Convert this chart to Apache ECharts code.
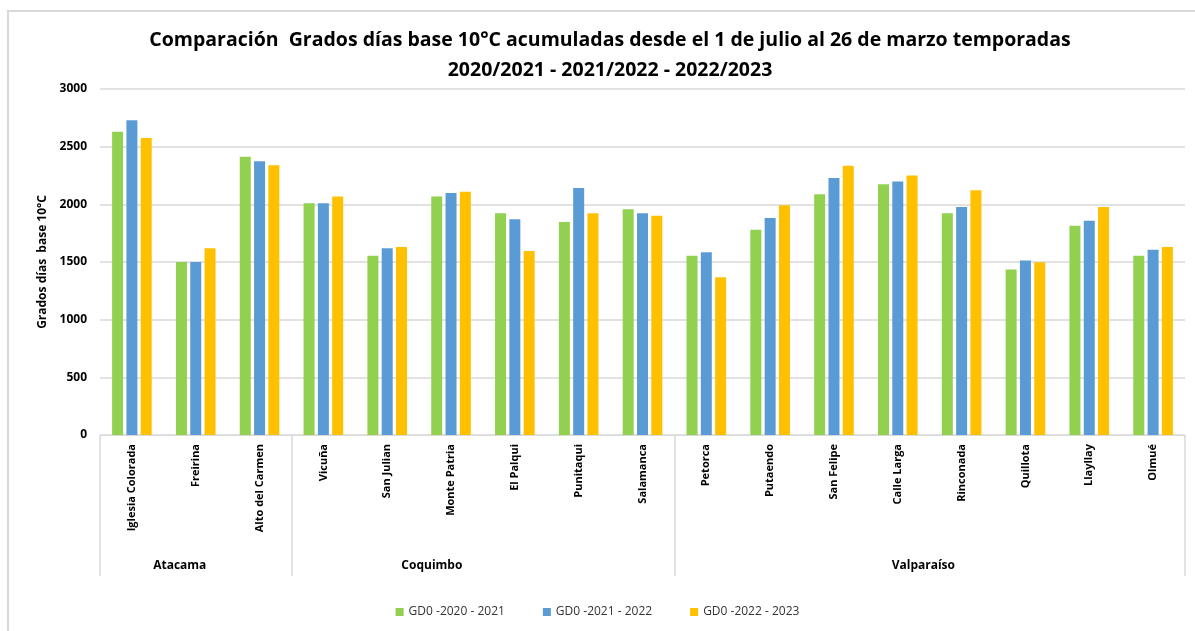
<!DOCTYPE html>
<html>
<head>
<meta charset="utf-8">
<script src="https://cdn.jsdelivr.net/npm/echarts@6/dist/echarts.min.js"></script>
<style>
  html, body { margin: 0; padding: 0; background: #fff; }
  #frame {
    position: absolute; left: 7px; top: 10px; width: 1200px; height: 640px;
    border-top: 2px solid #d9d9d9; border-left: 2px solid #d9d9d9;
  }
  #chart { position: absolute; left: 0; top: 0; width: 1195px; height: 631px; }
</style>
</head>
<body>
<div id="frame"></div>
<div id="chart"></div>
<script>
const estaciones = [
  'Iglesia Colorada', 'Freirina', 'Alto del Carmen',
  'Vicuña', 'San Julian', 'Monte Patria', 'El Palqui', 'Punitaqui', 'Salamanca',
  'Petorca', 'Putaendo', 'San Felipe', 'Calle Larga', 'Rinconada', 'Quillota', 'Llayllay', 'Olmué'
];
const regiones = ['Atacama', 'Coquimbo', 'Valparaíso'];
// region borders and label spots, in category units
const regionLimites = [0, 3, 9, 17];
const regionEtiquetas = [1.25, 5.2, 12.9];

const gd2021 = [2630, 1500, 2413, 2010, 1555, 2067, 1922, 1847, 1957, 1555, 1780, 2087, 2174, 1922, 1434, 1815, 1555];
const gd2022 = [2729, 1500, 2373, 2010, 1619, 2098, 1870, 2142, 1922, 1584, 1882, 2228, 2197, 1977, 1512, 1858, 1607];
const gd2023 = [2575, 1619, 2338, 2067, 1630, 2110, 1595, 1922, 1902, 1367, 1991, 2335, 2249, 2122, 1497, 1977, 1630];

const nombres = ['GD0 -2020 - 2021', 'GD0 -2021 - 2022', 'GD0 -2022 - 2023'];
const colores = ['#92D050', '#5B9BD5', '#FFC000'];

const fuente = '"Open Sans", sans-serif';
const gris = '#d9d9d9';

const chart = echarts.init(document.getElementById('chart'));

const series = [gd2021, gd2022, gd2023].map((d, i) => ({
  name: nombres[i],
  type: 'bar',
  data: d,
  barWidth: 11,
  barGap: '30%',
  itemStyle: { color: colores[i] }
}));

chart.setOption({
  animation: false,
  title: {
    text: 'Comparación  Grados días base 10°C acumuladas desde el 1 de julio al 26 de marzo temporadas\n2020/2021 - 2021/2022 - 2022/2023',
    left: 605,
    textAlign: 'center',
    top: 20,
    textStyle: { fontFamily: fuente, fontWeight: 'bold', fontSize: 19.5, lineHeight: 30, color: '#000' }
  },
  legend: {
    bottom: 8,
    left: 'center',
    icon: 'rect',
    itemWidth: 8,
    itemHeight: 8,
    itemGap: 38,
    textStyle: { fontFamily: fuente, fontSize: 12, color: '#333' },
    data: nombres
  },
  grid: { left: 100, right: 10, top: 89, bottom: 196, containLabel: false },
  xAxis: [
    {
      type: 'category',
      data: estaciones,
      axisLine: { lineStyle: { color: gris } },
      axisTick: { show: false },
      axisLabel: {
        rotate: 90,
        margin: 9,
        fontFamily: fuente,
        fontWeight: 'bold',
        fontSize: 11,
        color: '#000'
      }
    },
    {
      type: 'value',
      position: 'bottom',
      min: 0,
      max: 17,
      axisLine: { show: false },
      splitLine: { show: false },
      axisTick: {
        show: true,
        length: 141,
        customValues: regionLimites,
        lineStyle: { color: gris, width: 1.5 }
      },
      axisLabel: {
        customValues: regionEtiquetas,
        margin: 125,
        formatter: v => regiones[regionEtiquetas.indexOf(v)],
        fontFamily: fuente,
        fontWeight: 'bold',
        fontSize: 12,
        color: '#000'
      }
    }
  ],
  yAxis: {
    type: 'value',
    min: 0,
    max: 3000,
    interval: 500,
    name: 'Grados días  base 10°C',
    nameLocation: 'middle',
    nameGap: 51,
    nameRotate: 90,
    nameTextStyle: { fontFamily: fuente, fontWeight: 'bold', fontSize: 12, color: '#000' },
    axisLine: { show: false },
    axisTick: { show: false },
    axisLabel: {
      margin: 13,
      formatter: v => String(v),
      fontFamily: fuente,
      fontWeight: 'bold',
      fontSize: 12,
      color: '#000'
    },
    splitLine: { lineStyle: { color: gris, width: 1.5 } }
  },
  series: series
});
</script>
</body>
</html>
